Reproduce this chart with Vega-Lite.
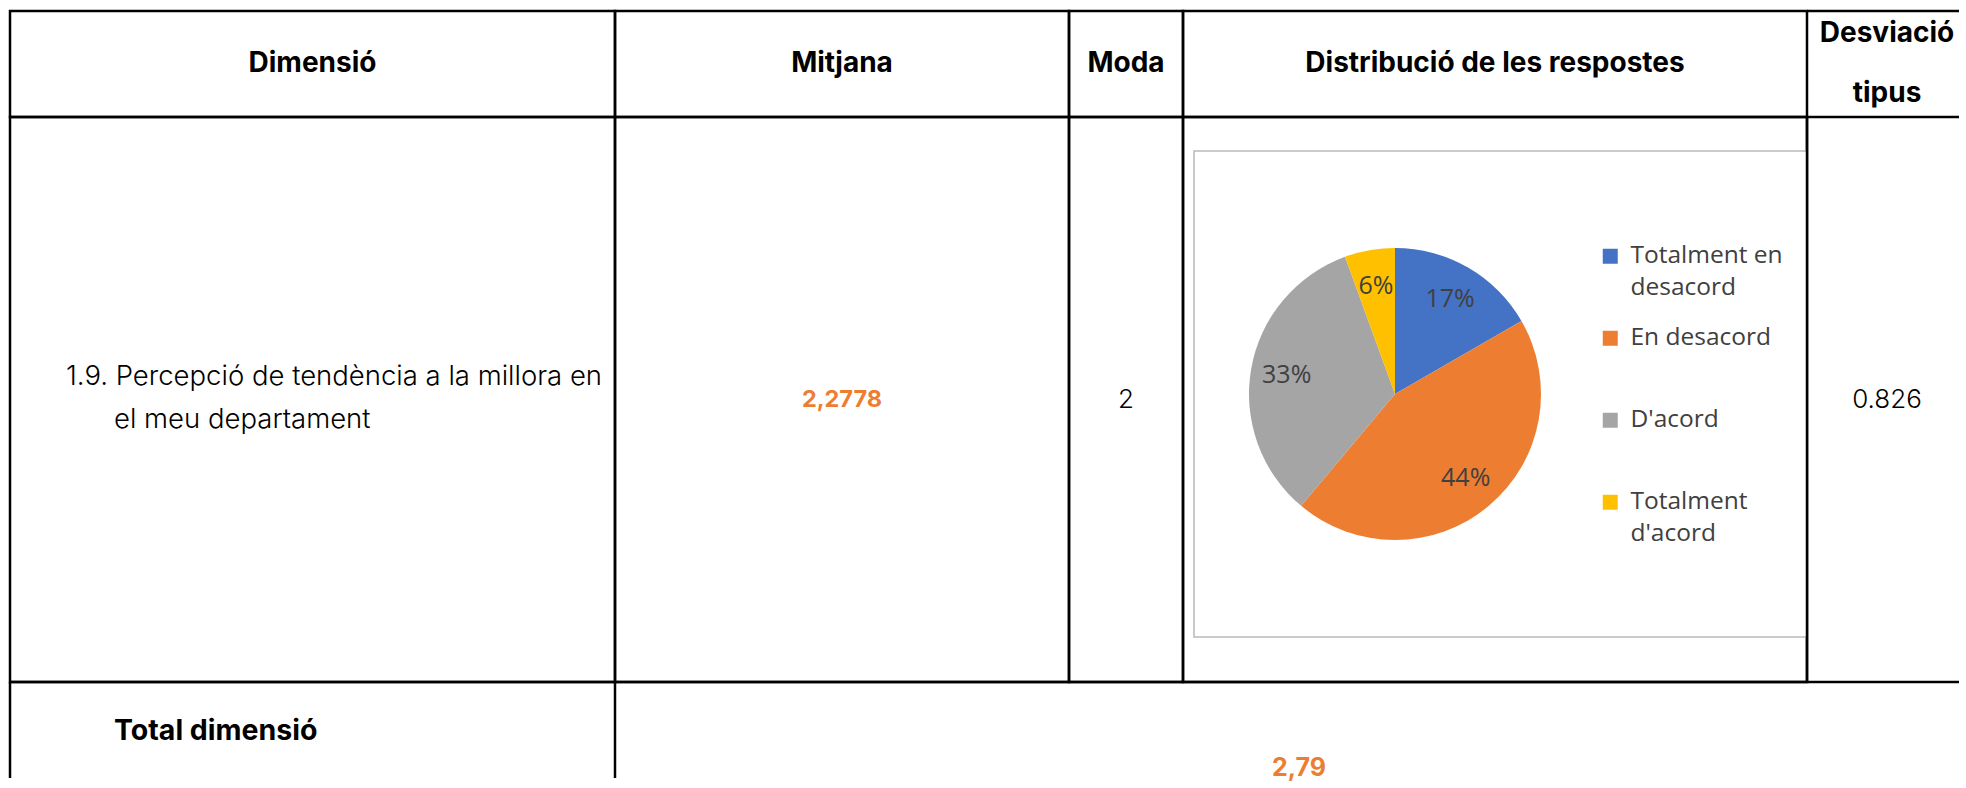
{
  "$schema": "https://vega.github.io/schema/vega-lite/v6.json",
  "background": "white",
  "padding": {"left": 8, "top": 9, "right": 0, "bottom": 0},
  "datasets": {
    "taula": [
      {"dimensio": ["1.9. Percepció de tendència a la millora en", "el meu departament"], "mitjana": 2.2778, "moda": 2, "desviacio": 0.826, "total": 2.79}
    ],
    "respostes": [
      {"resposta": "Totalment en desacord", "valor": 1, "n": 3, "proporcio": 0.1667},
      {"resposta": "En desacord", "valor": 2, "n": 8, "proporcio": 0.4444},
      {"resposta": "D'acord", "valor": 3, "n": 6, "proporcio": 0.3333},
      {"resposta": "Totalment d'acord", "valor": 4, "n": 1, "proporcio": 0.0556}
    ]
  },
  "columns": 5,
  "spacing": 0,
  "bounds": "flush",
  "align": "each",
  "concat": [
    {"width": 605, "height": 106, "view": {"stroke": "#000", "strokeWidth": 2.5}, "data": {"name": "taula"},
     "mark": {"type": "text", "text": "Dimensió", "fontWeight": "bold", "fontSize": 28}},
    {"width": 454, "height": 106, "view": {"stroke": "#000", "strokeWidth": 2.5}, "data": {"name": "taula"},
     "mark": {"type": "text", "text": "Mitjana", "fontWeight": "bold", "fontSize": 28}},
    {"width": 114, "height": 106, "view": {"stroke": "#000", "strokeWidth": 2.5}, "data": {"name": "taula"},
     "mark": {"type": "text", "text": "Moda", "fontWeight": "bold", "fontSize": 28}},
    {"width": 624, "height": 106, "view": {"stroke": "#000", "strokeWidth": 2.5}, "data": {"name": "taula"},
     "mark": {"type": "text", "text": "Distribució de les respostes", "fontWeight": "bold", "fontSize": 28}},
    {"width": 152, "height": 106, "data": {"name": "taula"},
     "layer": [
       {"mark": {"type": "rule", "strokeWidth": 2.5, "color": "#000"}, "encoding": {"y": {"value": 0}}},
       {"mark": {"type": "rule", "strokeWidth": 2.5, "color": "#000"}, "encoding": {"y": {"value": 106}}},
       {"mark": {"type": "text", "text": ["Desviació", "tipus"], "lineHeight": 60, "dx": 4, "dy": -30, "fontWeight": "bold", "fontSize": 28}}
     ]},

    {"width": 605, "height": 565, "view": {"stroke": "#000", "strokeWidth": 2.5}, "data": {"name": "taula"},
     "layer": [
       {"mark": {"type": "text", "align": "left", "x": 56, "dy": -23, "fontSize": 27.5, "fontWeight": 300}, "encoding": {"text": {"field": "dimensio[0]"}}},
       {"mark": {"type": "text", "align": "left", "x": 104, "dy": 20, "fontSize": 27.5, "fontWeight": 300}, "encoding": {"text": {"field": "dimensio[1]"}}}
     ]},
    {"width": 454, "height": 565, "view": {"stroke": "#000", "strokeWidth": 2.5}, "data": {"name": "taula"},
     "mark": {"type": "text", "fontWeight": "bold", "fontSize": 23.5, "color": "#ED7D31"},
     "encoding": {"text": {"field": "mitjana", "type": "quantitative", "format": ".4f"}}},
    {"width": 114, "height": 565, "view": {"stroke": "#000", "strokeWidth": 2.5}, "data": {"name": "taula"},
     "mark": {"type": "text", "fontSize": 26, "fontWeight": 300},
     "encoding": {"text": {"field": "moda", "type": "nominal"}}},
    {"width": 624, "height": 565, "view": {"stroke": "#000", "strokeWidth": 2.5},
     "data": {"name": "respostes"},
     "layer": [
       {"data": {"name": "taula"},
        "mark": {"type": "rect", "x": 11, "x2": 624, "y": 34, "y2": 520, "fill": "white", "stroke": "#b9b9b9", "strokeWidth": 1.5}},
       {"mark": {"type": "arc", "radius": 146},
        "encoding": {
          "x": {"value": 212},
          "y": {"value": 277},
          "theta": {"field": "proporcio", "type": "quantitative", "stack": true},
          "order": {"field": "valor", "type": "quantitative"},
          "color": {"field": "resposta", "type": "nominal",
            "scale": {"domain": ["Totalment en desacord", "En desacord", "D'acord", "Totalment d'acord"],
                      "range": ["#4472C4", "#ED7D31", "#A5A5A5", "#FFC000"]},
            "legend": {"orient": "none", "legendX": 1588, "legendY": 233, "title": null, "direction": "vertical",
              "padding": 0, "symbolType": "square", "symbolSize": 225, "symbolStrokeWidth": 0,
              "labelFont": "Open Sans", "labelFontSize": 24.5, "labelColor": "#404040", "labelOffset": 8,
              "labelLimit": 400, "rowPadding": 25,
              "labelExpr": "datum.label == 'Totalment en desacord' ? ['Totalment en', 'desacord'] : datum.label == \"Totalment d'acord\" ? ['Totalment', \"d'acord\"] : [datum.label, '']"}
          }
        }},
       {"mark": {"type": "text", "radius": 110, "font": "Open Sans", "fontSize": 25, "color": "#404040"},
        "encoding": {
          "x": {"value": 212},
          "y": {"value": 277},
          "theta": {"field": "proporcio", "type": "quantitative", "stack": true},
          "order": {"field": "valor", "type": "quantitative"},
          "detail": {"field": "resposta", "type": "nominal"},
          "text": {"field": "proporcio", "type": "quantitative", "format": ".0%"}
        }}
     ]},
    {"width": 152, "height": 565, "data": {"name": "taula"},
     "layer": [
       {"mark": {"type": "rule", "strokeWidth": 2.5, "color": "#000"}, "encoding": {"x": {"value": 0}}},
       {"mark": {"type": "text", "dx": 4, "fontSize": 26, "fontWeight": 300}, "encoding": {"text": {"field": "desviacio", "type": "nominal"}}}
     ]},

    {"width": 605, "height": 96, "data": {"name": "taula"},
     "layer": [
       {"mark": {"type": "rule", "strokeWidth": 2.5, "color": "#000"}, "encoding": {"x": {"value": 0}}},
       {"mark": {"type": "rule", "strokeWidth": 2.5, "color": "#000"}, "encoding": {"x": {"value": 605}}},
       {"mark": {"type": "rule", "strokeWidth": 2.5, "color": "#000"}, "encoding": {"y": {"value": 0}}},
       {"mark": {"type": "text", "text": "Total dimensió", "align": "left", "x": 104, "dy": 0.5, "fontWeight": "bold", "fontSize": 28.5}}
     ]},
    {"width": 454, "height": 96, "data": {"name": "taula"},
     "layer": [
       {"mark": {"type": "rule", "strokeWidth": 2.5, "color": "#000"}, "encoding": {"y": {"value": 0}}},
       {"mark": {"type": "text", "x": 684, "dy": 37.5, "fontWeight": "bold", "fontSize": 25, "color": "#ED7D31"},
        "encoding": {"text": {"field": "total", "type": "quantitative", "format": ".2f"}}}
     ]},
    {"width": 114, "height": 96, "data": {"name": "taula"},
     "mark": {"type": "rule", "strokeWidth": 2.5, "color": "#000"}, "encoding": {"y": {"value": 0}}},
    {"width": 624, "height": 96, "data": {"name": "taula"},
     "mark": {"type": "rule", "strokeWidth": 2.5, "color": "#000"}, "encoding": {"y": {"value": 0}}},
    {"width": 152, "height": 96, "data": {"name": "taula"},
     "mark": {"type": "rule", "strokeWidth": 2.5, "color": "#000"}, "encoding": {"y": {"value": 0}}}
  ],
  "config": {
    "view": {"stroke": null},
    "concat": {"spacing": 0},
    "locale": {"number": {"decimal": ",", "thousands": ".", "grouping": [3], "currency": ["", " €"]}},
    "text": {"font": "Inter", "color": "#000", "baseline": "middle"},
    "style": {"guide-label": {"lineHeight": 32}}
  }
}
